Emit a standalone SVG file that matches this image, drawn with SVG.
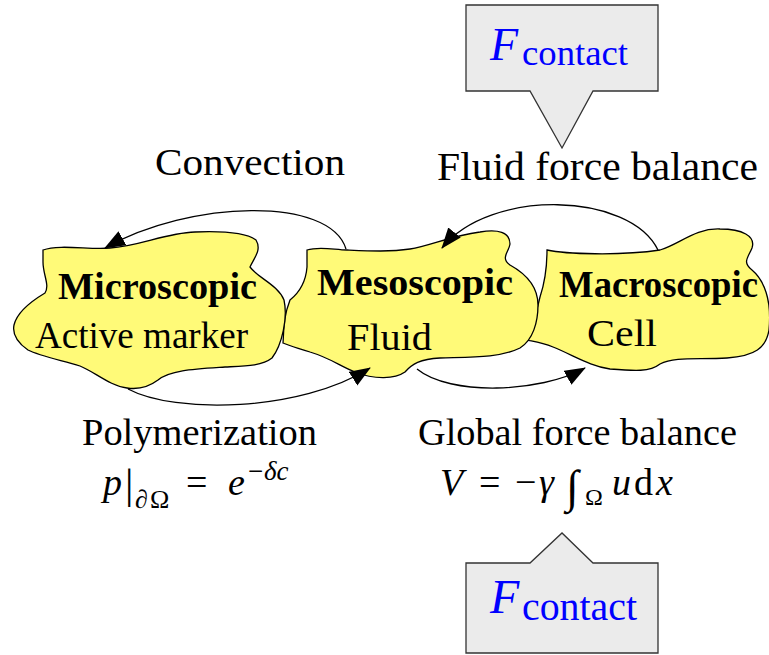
<svg xmlns="http://www.w3.org/2000/svg" width="769" height="655" viewBox="0 0 769 655">
<style>
.blob{fill:#fffa78;stroke:#000;stroke-width:1.3}
.t{font-family:"Liberation Serif","Times New Roman",serif;fill:#000}
.b{font-weight:bold}
.i{font-style:italic}
.conn{fill:none;stroke:#000;stroke-width:1.3}
.callout{fill:#ebebeb;stroke:#333;stroke-width:1.3}
.blue{fill:#0000ff}
</style>
<defs>
<marker id="ah" markerUnits="userSpaceOnUse" markerWidth="23" markerHeight="18" refX="20" refY="8" orient="auto">
<path d="M0,0 L21,8 L0,16 Z" fill="#000"/>
</marker>
</defs>
<rect width="769" height="655" fill="#fff"/>

<g id="macroscopic">
<path class="blob" d="M547,250 C565,254 620,256 660,250 C680,244 695,228 720,229 C742,229 756,236 752,248 C748,258 742,262 752,270 C764,280 772,300 769,330 C766,348 755,356 727,358 C700,360 675,356 660,364 C650,372 635,371 610,369 C590,366 575,356 553,347 C540,342 530,341 527,340 C532,330 535,318 540,297 C544,285 547,270 547,250 Z"/>
<text class="t b" x="559" y="297" font-size="37" textLength="199" lengthAdjust="spacingAndGlyphs">Macroscopic</text>
<text class="t" x="587" y="346" font-size="38" textLength="70" lengthAdjust="spacingAndGlyphs">Cell</text>
</g>

<g id="mesoscopic">
<path class="blob" d="M307,250 C320,246 335,250 347,250 C370,251 390,252 410,249 C430,246 450,236 480,232 C498,229 510,232 510,244 C509,252 500,258 510,265 C528,275 538,288 538,305 C538,322 533,340 520,348 C500,358 470,357 440,358 C420,359 412,364 405,372 C395,379 375,380 355,372 C340,366 330,358 310,352 C298,348 290,346 283,343 C284,330 283,318 290,300 C300,292 306,280 307,267 Z"/>
<text class="t b" x="317" y="295" font-size="37" textLength="196" lengthAdjust="spacingAndGlyphs">Mesoscopic</text>
<text class="t" x="347" y="350" font-size="38" textLength="85" lengthAdjust="spacingAndGlyphs">Fluid</text>
</g>

<g id="microscopic">
<path class="blob" d="M43,250 C60,244 90,250 110,248 C140,246 165,233 195,232 C220,231 245,232 256,240 C262,250 254,258 250,267 C258,278 278,285 284,300 C288,318 282,345 272,358 C262,366 245,366 225,367 C195,369 170,370 158,380 C150,386 140,390 127,388 C110,386 95,372 80,366 C60,360 40,356 28,350 C18,343 12,335 14,325 C17,312 30,302 45,293 C50,285 43,275 43,262 Z"/>
<text class="t b" x="58" y="299" font-size="37" textLength="199" lengthAdjust="spacingAndGlyphs">Microscopic</text>
<text class="t" x="35" y="348" font-size="38" textLength="213" lengthAdjust="spacingAndGlyphs">Active marker</text>
</g>

<g id="connectors">
<path class="conn" marker-end="url(#ah)" d="M346,249 C330,196 190,200 105,248"/>
<path class="conn" marker-end="url(#ah)" d="M658,250 C630,192 490,188 442,248"/>
<path class="conn" marker-end="url(#ah)" d="M128,389 C175,414 300,412 370,368"/>
<path class="conn" marker-end="url(#ah)" d="M417,369 C450,396 540,393 585,368"/>
</g>

<g id="labels">
<text class="t" x="155" y="175" font-size="38" textLength="190" lengthAdjust="spacingAndGlyphs">Convection</text>
<text class="t" x="437" y="180" font-size="40" textLength="321" lengthAdjust="spacingAndGlyphs">Fluid force balance</text>
<text class="t" x="82" y="445" font-size="38" textLength="235" lengthAdjust="spacingAndGlyphs">Polymerization</text>
<text class="t" x="418" y="445" font-size="38" textLength="319" lengthAdjust="spacingAndGlyphs">Global force balance</text>
<g id="eq1">
<text class="t i" x="103" y="495" font-size="38">p</text>
<text class="t" x="125" y="498" font-size="42">|</text>
<text class="t i" x="135" y="508" font-size="26">∂</text>
<text class="t" x="150" y="508" font-size="26">Ω</text>
<text class="t" x="186" y="495" font-size="38">=</text>
<text class="t i" x="228" y="495" font-size="38">e</text>
<text class="t" x="248" y="480" font-size="27">−</text>
<text class="t i" x="264" y="480" font-size="27">δc</text>
</g>
<g id="eq2">
<text class="t i" x="440" y="495" font-size="38">V</text>
<text class="t" x="479" y="495" font-size="38">=</text>
<text class="t" x="515" y="495" font-size="38">−</text>
<text class="t i" x="539" y="495" font-size="38">γ</text>
<text class="t i" x="566" y="502" font-size="46">∫</text>
<text class="t" x="585" y="505" font-size="24">Ω</text>
<text class="t i" x="612" y="495" font-size="38">u</text>
<text class="t" x="634" y="495" font-size="38">d</text>
<text class="t i" x="656" y="495" font-size="38">x</text>
</g>
</g>

<g id="callout-top">
<path class="callout" d="M466,5 L658,5 L658,91 L593,91 L562,148 L530,91 L466,91 Z"/>
<text class="t i blue" x="490" y="60" font-size="46">F</text>
<text class="t blue" x="522" y="65" font-size="36" textLength="106" lengthAdjust="spacingAndGlyphs">contact</text>
</g>

<g id="callout-bottom">
<path class="callout" d="M466,563 L530,563 L562,533 L593,563 L658,563 L658,653 L466,653 Z"/>
<text class="t i blue" x="490" y="613" font-size="48">F</text>
<text class="t blue" x="522" y="620" font-size="39" textLength="115" lengthAdjust="spacingAndGlyphs">contact</text>
</g>
</svg>
